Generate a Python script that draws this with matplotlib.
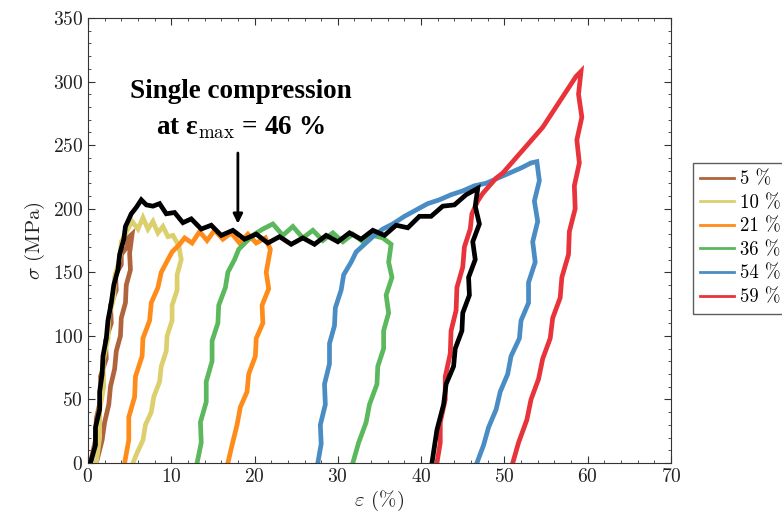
import matplotlib
matplotlib.use('Agg')

import matplotlib.pyplot as plt

plt.rcParams['font.family'] = 'serif'
plt.rcParams['font.serif'] = ['cmr10', 'DejaVu Serif']
plt.rcParams['mathtext.fontset'] = 'cm'
plt.rcParams['axes.formatter.use_mathtext'] = True

# strain (%) / stress (MPa), one cycle per colour
x_5 = [0.3, 0.9, 1.0, 1.6, 1.5, 2.2, 2.1, 2.8, 2.7, 3.4, 3.3, 4.0, 4.0, 4.7, 4.8, 5.3, 5.0, 5.1, 4.6, 4.5, 4.0, 3.9, 3.4, 3.2, 2.7, 2.5, 2.0, 1.7, 1.0]
y_5 = [0, 18, 35, 52, 68, 82, 96, 110, 124, 136, 148, 156, 164, 170, 177, 180, 165, 152, 140, 126, 114, 100, 88, 74, 60, 46, 32, 18, 0]

x_10 = [1.0, 1.4, 1.4, 1.9, 1.8, 2.4, 2.5, 3.1, 3.2, 3.8, 4.0, 4.7, 5.3, 6.0, 6.6, 7.2, 7.8, 8.4, 9.0, 9.6, 10.2, 10.9, 11.2, 10.7, 10.7, 10.1, 10.1, 9.5, 9.4, 8.8, 8.6, 7.9, 7.6, 6.9, 6.6, 5.9, 5.4]
y_10 = [0, 20, 42, 60, 80, 98, 115, 130, 146, 160, 174, 183, 190, 184, 193, 184, 190, 181, 186, 178, 179, 171, 160, 148, 136, 124, 112, 100, 88, 76, 64, 52, 40, 30, 18, 8, 0]

x_21 = [4.4, 4.9, 4.9, 5.6, 5.7, 6.5, 6.6, 7.4, 7.6, 8.4, 8.8, 9.6, 10.1, 11.0, 11.6, 12.5, 13.4, 14.3, 15.2, 16.2, 17.2, 18.2, 19.2, 20.2, 21.3, 21.9, 21.4, 21.7, 20.9, 21.0, 20.2, 20.1, 19.3, 19.1, 18.3, 17.9, 17.3, 16.8]
y_21 = [0, 18, 36, 52, 68, 84, 98, 112, 126, 138, 150, 160, 166, 172, 177, 173, 182, 175, 183, 176, 181, 173, 180, 173, 177, 168, 150, 137, 124, 110, 98, 84, 70, 56, 44, 30, 14, 0]

x_36 = [13.1, 13.6, 13.5, 14.2, 14.2, 14.9, 14.9, 15.6, 15.7, 16.5, 16.8, 17.6, 18.1, 19.0, 20.0, 21.0, 22.2, 23.4, 24.6, 25.8, 27.0, 28.2, 29.4, 30.6, 31.8, 33.0, 34.2, 35.4, 36.4, 36.1, 36.5, 35.8, 36.1, 35.5, 35.5, 34.8, 34.7, 33.8, 33.4, 32.5, 31.8]
y_36 = [0, 16, 32, 48, 64, 80, 96, 110, 124, 138, 150, 160, 168, 174, 180, 184, 188, 179, 186, 177, 183, 175, 181, 174, 180, 174, 179, 177, 172, 158, 146, 132, 118, 104, 90, 76, 62, 46, 32, 16, 0]

x_54 = [27.6, 28.0, 27.9, 28.5, 28.4, 29.0, 29.0, 29.6, 29.7, 30.4, 30.7, 31.6, 32.2, 33.2, 34.2, 35.4, 36.6, 38.0, 39.4, 40.8, 42.2, 43.6, 45.0, 46.4, 47.8, 49.2, 50.6, 52.0, 53.2, 53.9, 54.2, 53.6, 54.0, 53.4, 53.7, 52.9, 52.9, 52.0, 51.8, 50.8, 50.4, 49.5, 49.0, 48.1, 47.5, 46.7]
y_54 = [0, 15, 30, 46, 62, 78, 94, 108, 122, 136, 148, 158, 166, 172, 178, 184, 188, 194, 199, 204, 207, 211, 214, 218, 220, 224, 228, 232, 236, 237, 222, 206, 190, 174, 158, 142, 126, 112, 98, 84, 70, 56, 42, 28, 14, 0]

x_59 = [41.9, 42.3, 42.3, 42.9, 42.9, 43.5, 43.6, 44.2, 44.3, 45.0, 45.2, 45.9, 46.1, 46.8, 47.4, 48.2, 49.0, 49.8, 50.6, 51.4, 52.2, 53.0, 53.8, 54.6, 55.4, 56.2, 57.0, 57.8, 58.6, 59.2, 58.9, 59.3, 58.7, 59.0, 58.4, 58.5, 57.8, 57.7, 56.9, 56.7, 55.8, 55.5, 54.6, 54.1, 53.2, 52.7, 51.7, 51.0]
y_59 = [0, 16, 32, 50, 68, 86, 104, 120, 138, 154, 170, 184, 196, 206, 212, 218, 224, 228, 234, 240, 246, 252, 258, 264, 272, 280, 288, 296, 304, 308, 290, 272, 254, 236, 218, 200, 182, 164, 146, 130, 114, 98, 82, 66, 50, 34, 16, 0]

# single compression up to 46 %
x_single = [0.3, 0.9, 0.9, 1.4, 1.4, 1.7, 1.8, 2.2, 2.4, 2.8, 3.1, 3.6, 3.8, 4.3, 4.5, 5.2, 5.8, 6.4, 7.0, 7.8, 8.6, 9.4, 10.4, 11.4, 12.4, 13.6, 14.8, 16.0, 17.4, 18.8, 20.2, 21.6, 23.0, 24.4, 25.8, 27.2, 28.6, 30.0, 31.4, 32.8, 34.2, 35.6, 37.0, 38.4, 39.8, 41.2, 42.6, 44.0, 45.4, 46.8, 46.5, 47.0, 46.2, 46.5, 45.7, 45.8, 45.0, 44.9, 44.1, 43.9, 43.0, 42.7, 41.9, 41.3]
y_single = [0, 14, 28, 42, 56, 70, 84, 98, 112, 126, 140, 152, 164, 176, 186, 196, 201, 207, 203, 202, 204, 196, 197, 189, 192, 184, 187, 179, 183, 176, 180, 173, 178, 172, 177, 172, 179, 174, 181, 176, 183, 179, 187, 185, 194, 194, 202, 203, 211, 216, 202, 188, 174, 160, 146, 132, 118, 104, 90, 76, 62, 46, 26, 0]

labels = ['5 %', '10 %', '21 %', '36 %', '54 %', '59 %']
colors = ['#b0643c', '#dccf6e', '#ff8c1a', '#5cb85c', '#4a8cc4', '#e8333a']

fig = plt.figure(figsize=(7.82, 5.29), dpi=100)
ax = fig.add_axes([0.1125, 0.1248, 0.7455, 0.8412])

series = [(x_5, y_5), (x_10, y_10), (x_21, y_21), (x_36, y_36), (x_54, y_54), (x_59, y_59)]
handles = []
for (xs, ys), c, lab in zip(series, colors, labels):
    ax.plot(xs, ys, color=c, lw=3.4, solid_joinstyle='miter')
    h, = ax.plot([], [], color=c, lw=2, label=lab)
    handles.append(h)
ax.plot(x_single, y_single, color='black', lw=3.4, solid_joinstyle='miter', zorder=3)

ax.annotate('', xy=(18, 186), xytext=(18, 246),
            arrowprops=dict(arrowstyle='-|>', color='black', lw=2, mutation_scale=14))
ax.text(18.3, 292, 'Single compression', ha='center', va='center',
        fontsize=19.5, fontweight='bold', family='Liberation Serif')
ax.text(18.3, 264, r'at ε$_{\mathrm{max}}$ = 46 %', ha='center', va='center',
        fontsize=19.5, fontweight='bold', family='Liberation Serif')

ax.set_xlim(0, 70)
ax.set_ylim(0, 350)
ax.set_xticks(range(0, 71, 10))
ax.set_yticks(range(0, 351, 50))
ax.set_xticks(range(0, 71, 2), minor=True)
ax.set_yticks(range(0, 351, 10), minor=True)
ax.tick_params(which='both', direction='in', top=True, right=True, colors='#333333',
               labelcolor='#222222', labelsize=14)
ax.tick_params(which='major', length=5)
ax.tick_params(which='minor', length=2.5)
for s in ax.spines.values():
    s.set_color('#333333')

ax.set_xlabel(r'$\varepsilon$ (%)', fontsize=15, color='#222222', labelpad=2)
ax.set_ylabel(r'$\sigma$ (MPa)', fontsize=15, color='#222222', labelpad=4)

leg = fig.legend(handles=handles, loc='upper left', bbox_to_anchor=(0.886, 0.692),
                 bbox_transform=fig.transFigure, fontsize=13.5, handlelength=1.8,
                 handletextpad=0.3, labelspacing=0.3, fancybox=False, borderaxespad=0)
leg.get_frame().set_edgecolor('#333333')
leg.get_frame().set_linewidth(1.0)

plt.savefig('out.png', dpi=100)
